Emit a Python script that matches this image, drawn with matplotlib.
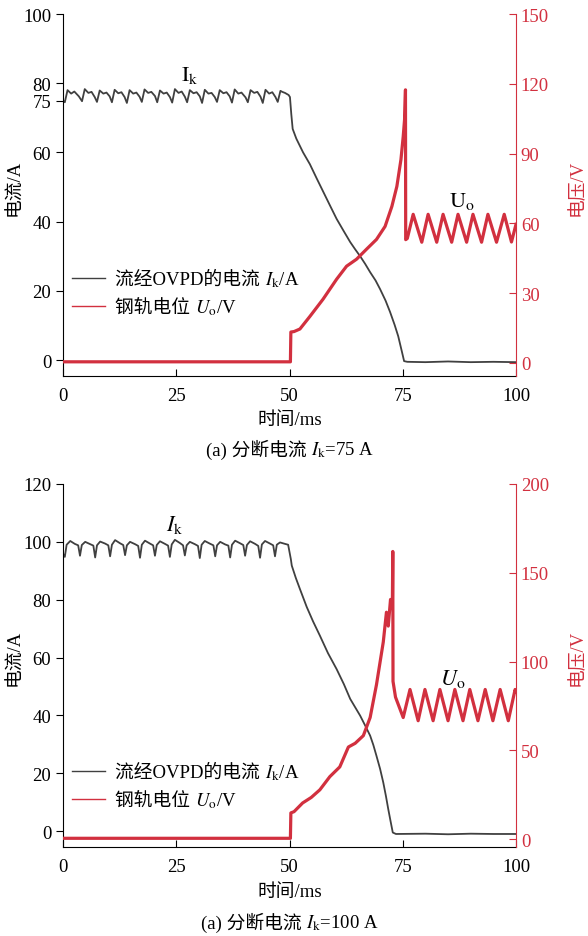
import numpy as np
import matplotlib.pyplot as plt
from matplotlib.lines import Line2D
from matplotlib.offsetbox import (AnchoredOffsetbox, DrawingArea, HPacker,
                                  TextArea, VPacker)

plt.rcParams['font.family'] = ['Liberation Serif', 'Noto Sans CJK SC']
plt.rcParams['mathtext.fontset'] = 'stix'

GRAY = '#404040'
RED = '#d2303f'

# ---- panel (a) 75 A : current through OVPD ----
t75_i = [0.0, 0.4, 1.0, 1.8, 2.5, 3.5,
         4.2, 4.8, 5.6, 6.3, 7.0,
         7.5, 8.1, 8.9, 9.6, 10.3,
         10.8, 11.4, 12.2, 12.9, 13.6,
         14.1, 14.7, 15.5, 16.2, 16.9,
         17.4, 18.0, 18.8, 19.5, 20.3,
         20.8, 21.4, 22.2, 22.9, 23.6,
         24.1, 24.7, 25.5, 26.2, 26.9,
         27.4, 28.0, 28.8, 29.5, 30.2,
         30.7, 31.3, 32.1, 32.8, 33.5,
         34.0, 34.6, 35.4, 36.1, 36.8,
         37.3, 37.9, 38.7, 39.4, 40.3,
         40.8, 41.4, 42.2, 42.9, 43.6,
         44.1, 44.7, 45.5, 46.2, 46.9,
         47.4, 48.0, 48.4, 49.0, 49.8, 50.1,
         50.4, 50.7, 51.5, 53.0, 54.5, 56.0, 57.5, 59.0, 60.4, 62.0,
         63.4, 64.5, 65.6, 66.7, 67.8, 69.0, 70.0, 71.2, 72.2, 73.2,
         74.0, 74.8, 75.3, 76.0, 80.0, 85.0, 90.0, 95.0, 100.0]
i75 = [75.0, 74.5, 78.0, 77.0, 77.6, 76.2,
       74.8, 78.3, 77.2, 77.5, 76.0,
       74.6, 77.9, 77.0, 77.3, 76.2,
       74.5, 78.1, 77.1, 77.4, 76.0,
       74.3, 78.0, 77.0, 77.3, 76.1,
       74.6, 78.2, 77.2, 77.5, 76.3,
       74.5, 77.9, 77.0, 77.3, 76.0,
       74.4, 78.3, 77.2, 77.6, 76.1,
       74.5, 78.0, 77.1, 77.4, 76.2,
       74.3, 78.1, 77.0, 77.2, 76.0,
       74.6, 78.0, 77.1, 77.4, 76.2,
       74.4, 78.2, 77.0, 77.3, 75.9,
       74.5, 78.0, 77.2, 77.5, 76.1,
       74.3, 78.1, 77.0, 77.4, 76.0,
       74.6, 77.8, 77.5, 77.2, 76.6, 76.0,
       71.0, 66.8, 64.0, 60.0, 56.6, 52.5, 48.5, 44.5, 40.8, 37.2,
       34.1, 32.0, 30.0, 27.8, 25.4, 23.0, 20.5, 17.2, 13.9, 10.2,
       6.9, 2.5, -0.3, -0.5, -0.6, -0.4, -0.6, -0.5, -0.6]

# ---- panel (a) 75 A : rail potential ----
t75_u = [0.0, 50.2, 50.3, 51.0, 52.3, 54.5, 57.4, 60.4, 62.6, 64.8,
         67.0, 69.2, 71.1, 72.6, 73.7, 74.6, 75.1, 75.4, 75.6, 75.65,
         76.0, 77.3, 79.2, 80.6, 82.5, 83.9, 85.8, 87.2, 89.1, 90.5,
         92.4, 93.8, 95.7, 97.4, 99.0, 100.0]
u75 = [0.5, 0.5, 13.3, 13.5, 14.6, 20.0, 27.4, 36.0, 41.6, 44.6,
       48.9, 53.1, 58.7, 67.3, 75.9, 87.4, 97.3, 104.6, 117.4, 53.0,
       53.5, 63.9, 51.9, 63.9, 51.9, 63.9, 51.9, 63.9, 51.9, 63.9,
       51.9, 63.9, 51.9, 63.9, 52.0, 59.6]

# ---- panel (b) 100 A : current through OVPD ----
t100_i = [0.0, 0.4, 0.8, 1.6, 2.6, 3.35,
          3.75, 4.15, 4.9, 6.0, 6.7,
          7.1, 7.5, 8.2, 9.3, 10.0,
          10.4, 10.8, 11.5, 12.6, 13.3,
          13.7, 14.1, 14.8, 15.9, 16.6,
          17.0, 17.4, 18.1, 19.2, 19.9,
          20.3, 20.7, 21.4, 22.5, 23.2,
          23.6, 24.0, 24.7, 25.8, 26.5,
          26.9, 27.3, 28.0, 29.1, 29.8,
          30.2, 30.6, 31.3, 32.4, 33.2,
          33.6, 34.0, 34.7, 35.8, 36.5,
          36.9, 37.3, 38.0, 39.1, 39.8,
          40.2, 40.6, 41.3, 42.4, 43.1,
          43.5, 43.9, 44.6, 45.7, 46.4,
          46.8, 47.2, 47.9, 49.0, 49.7,
          50.3, 50.5, 51.4, 52.3, 53.8, 55.2, 56.7, 58.5, 60.4, 62.0,
          63.4, 64.5, 65.6, 66.7, 67.8, 68.5, 69.2, 70.0, 70.7, 71.3,
          71.8, 72.3, 72.8, 73.5, 80.0, 85.0, 90.0, 95.0, 100.0]
i100 = [96.0, 94.8, 99.0, 100.3, 99.3, 98.8,
        95.2, 98.9, 100.0, 99.2, 98.7,
        94.6, 98.8, 100.1, 99.4, 98.8,
        95.0, 99.0, 100.6, 99.5, 98.9,
        95.4, 98.8, 100.0, 99.2, 98.6,
        94.5, 99.0, 100.4, 99.4, 98.8,
        95.2, 98.9, 100.2, 99.3, 98.7,
        94.8, 99.1, 100.7, 99.6, 98.8,
        95.3, 98.8, 100.0, 99.2, 98.6,
        94.4, 99.0, 100.3, 99.4, 98.8,
        95.0, 98.8, 100.0, 99.1, 98.7,
        94.6, 99.0, 100.4, 99.5, 98.9,
        95.2, 98.9, 100.2, 99.3, 98.6,
        94.5, 99.1, 100.3, 99.4, 98.8,
        95.0, 99.0, 99.8, 99.3, 99.0,
        94.0, 91.8, 87.5, 83.7, 77.5, 72.5, 67.6, 61.5, 56.0, 50.8,
        45.7, 42.8, 39.9, 36.5, 33.0, 29.8, 26.0, 21.5, 16.8, 12.0,
        7.6, 3.5, -0.5, -1.0, -0.9, -1.1, -0.9, -1.0, -1.0]

# ---- panel (b) 100 A : rail potential ----
t100_u = [0.0, 50.2, 50.3, 51.0, 52.9, 54.8, 56.7, 58.9, 61.1, 63.0,
          64.5, 66.3, 67.8, 69.2, 70.7, 71.4, 71.8, 72.3, 72.7, 72.8, 72.85,
          73.4, 75.1, 76.6, 78.4, 79.9, 81.7, 83.2, 85.0, 86.5, 88.3,
          89.8, 91.6, 93.2, 94.9, 96.5, 98.3, 99.8, 100.0]
u100 = [0.5, 0.5, 14.8, 15.5, 20.4, 23.5, 27.8, 35.2, 40.7, 51.9,
        54.0, 58.3, 68.5, 87.0, 111.0, 127.8, 120.0, 135.0, 130.0, 162.0, 88.9,
        80.0, 68.5, 84.3, 66.7, 84.3, 66.7, 84.3, 66.7, 84.3, 66.7,
        84.3, 66.7, 84.3, 66.7, 84.3, 66.7, 84.3, 83.0]

legend_cjk = ['流经OVPD的电流 ', '钢轨电位 ']
legend_math = [r'$I_\mathrm{k}$/A', r'$U_\mathrm{o}$/V']

panels = [
    dict(ti=t75_i, i=i75, tu=t75_u, u=u75,
         ylim_i=(-4.6, 100), yt_i=[0, 20, 40, 60, 75, 80, 100],
         ylim_u=(-5.6, 150), yt_u=[0, 30, 60, 90, 120, 150],
         ik_txt=r'$\mathrm{I_k}$', ik_pos=(28, 82.5),
         uo_txt=r'$\mathrm{U_o}$', uo_pos=(88, 70),
         cap_cjk='(a) 分断电流 ', cap_math=r'$I_\mathrm{k}$=75 A'),
    dict(ti=t100_i, i=i100, tu=t100_u, u=u100,
         ylim_i=(-5.5, 120), yt_i=[0, 20, 40, 60, 80, 100, 120],
         ylim_u=(-4.4, 200), yt_u=[0, 50, 100, 150, 200],
         ik_txt=r'$I_\mathrm{k}$', ik_pos=(24.7, 106),
         uo_txt=r'$U_\mathrm{o}$', uo_pos=(86, 91),
         cap_cjk='(a) 分断电流 ', cap_math=r'$I_\mathrm{k}$=100 A'),
]

W, H = 588, 937
fig = plt.figure(figsize=(W / 100, H / 100), dpi=100)

# axes boxes in pixel coords: (left, top, right, bottom)
boxes = [(63, 15, 516, 377), (63, 485, 516, 848)]
xlab_y = [420, 893]
cap_y = [450, 923]
ylab_y = [188, 658]
leg_y = [294, 787]

fs = 13.5
tp = dict(fontsize=fs)


def mixed(cjk, math, color='black'):
    return HPacker(children=[TextArea(cjk, textprops=dict(fontsize=fs, color=color)),
                             TextArea(math, textprops=dict(fontsize=fs, color=color))],
                   align='baseline', pad=0, sep=0)


for p, (l, t, r, b), xy, cy, ly, gy in zip(panels, boxes, xlab_y, cap_y, ylab_y, leg_y):
    ax = fig.add_axes([l / W, 1 - b / H, (r - l) / W, (b - t) / H])
    ax2 = ax.twinx()

    ax.plot(p['ti'], p['i'], color=GRAY, lw=1.3)
    ax2.plot(p['tu'], p['u'], color=RED, lw=2.3)

    ax.set_xlim(0, 100)
    ax.set_xticks([0, 25, 50, 75, 100])
    ax.set_ylim(*p['ylim_i'])
    ax.set_yticks(p['yt_i'])
    ax2.set_ylim(*p['ylim_u'])
    ax2.set_yticks(p['yt_u'])

    for s in ['top', 'right']:
        ax.spines[s].set_visible(False)
    for s in ['top', 'left', 'bottom']:
        ax2.spines[s].set_visible(False)
    ax2.spines['right'].set_color(RED)

    ax.tick_params(axis='y', direction='out', length=5, labelsize=fs)
    ax.tick_params(axis='x', direction='in', length=5, labelsize=fs, pad=8)
    ax2.tick_params(axis='y', direction='in', length=5, colors=RED, labelsize=fs)

    ax.text(*p['ik_pos'], p['ik_txt'], fontsize=16, ha='center', va='center')
    ax2.text(*p['uo_pos'], p['uo_txt'], fontsize=16, ha='center', va='center')

    # legend built from pieces so CJK and math text can share a line
    rows = []
    for c, cj, mt in zip([GRAY, RED], legend_cjk, legend_math):
        da = DrawingArea(24, 9, 0, 0)
        da.add_artist(Line2D([0, 24], [4.5, 4.5], color=c, lw=1))
        rows.append(HPacker(children=[da, mixed(cj, mt)], align='baseline', pad=0, sep=7))
    box = VPacker(children=rows, align='left', pad=0, sep=6)
    ax2.add_artist(AnchoredOffsetbox(loc='center left', child=box, pad=0, borderpad=0,
                                     frameon=False, bbox_to_anchor=(72 / W, 1 - gy / H),
                                     bbox_transform=fig.transFigure))

    fig.text(15 / W, 1 - ly / H, '电流/A', rotation=90, ha='center', va='center', fontsize=fs)
    fig.text(577 / W, 1 - ly / H, '电压/V', rotation=90, ha='center', va='center',
             fontsize=fs, color=RED)
    fig.text(290 / W, 1 - xy / H, '时间/ms', ha='center', va='center', fontsize=fs)
    fig.add_artist(AnchoredOffsetbox(loc='center', child=mixed(p['cap_cjk'], p['cap_math']),
                                     pad=0, borderpad=0, frameon=False,
                                     bbox_to_anchor=(290 / W, 1 - cy / H),
                                     bbox_transform=fig.transFigure))

fig.savefig('out.png', dpi=100)
